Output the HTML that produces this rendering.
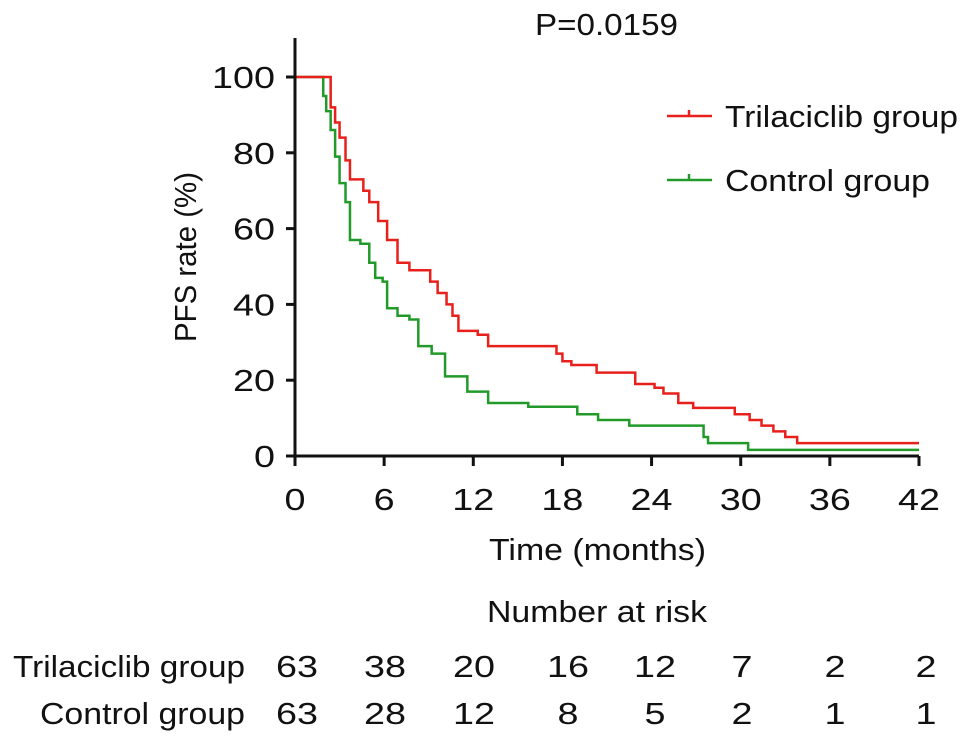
<!DOCTYPE html>
<html><head><meta charset="utf-8"><style>
body{margin:0;background:#fff;}
svg text{font-family:"Liberation Sans",Arial,sans-serif;fill:#111;}
</style></head><body>
<svg id="chart" width="969" height="742" viewBox="0 0 969 742" xmlns="http://www.w3.org/2000/svg">
<g id="plot"></g>
<text x="535" y="35" font-size="31" textLength="143" lengthAdjust="spacingAndGlyphs">P=0.0159</text>
<text x="489" y="560" font-size="31" textLength="217" lengthAdjust="spacingAndGlyphs">Time (months)</text>
<text transform="translate(196,342) rotate(-90)" font-size="31" textLength="170" lengthAdjust="spacingAndGlyphs">PFS rate (%)</text>
<g>
<line x1="667" y1="116" x2="712" y2="116" stroke="#e8201c" stroke-width="2.5"/>
<line x1="689" y1="110" x2="689" y2="116" stroke="#e8201c" stroke-width="2.5"/>
<text x="725" y="127" font-size="31" textLength="233" lengthAdjust="spacingAndGlyphs">Trilaciclib group</text>
<line x1="667" y1="180" x2="712" y2="180" stroke="#229a2a" stroke-width="2.5"/>
<line x1="689" y1="174" x2="689" y2="180" stroke="#229a2a" stroke-width="2.5"/>
<text x="725" y="191" font-size="31" textLength="205" lengthAdjust="spacingAndGlyphs">Control group</text>
</g>
<text x="487" y="622" font-size="31" textLength="220" lengthAdjust="spacingAndGlyphs">Number at risk</text>
<g id="risk"></g>
</svg>
<script>
const xTicks=[0,6,12,18,24,30,36,42];
const yTicks=[0,20,40,60,80,100];
const trilTimes=[0,2.4,2.7,3.0,3.4,3.7,4.6,5.0,5.6,6.2,6.9,7.7,9.1,9.6,10.2,10.6,11.0,12.3,13.0,17.6,18.0,18.6,20.3,22.9,24.2,24.8,25.8,26.8,29.6,30.6,31.4,32.2,33.0,33.8,42];
const trilSurv=[100,92,88,84,78,73,70,67,62,57,51,49,46,43,40,37,33,32,29,27,25,24,22,19,18,16.5,14,12.7,11,9.5,8,6.5,5,3.4,3.4];
const ctrlTimes=[0,1.9,2.1,2.4,2.7,3.0,3.4,3.7,4.4,5.0,5.4,5.9,6.2,6.9,7.7,8.3,9.2,10.1,11.6,13.0,15.7,19.0,20.4,22.5,27.5,27.8,30.5,42];
const ctrlSurv=[100,95,91,86,79,72,67,57,56,51,47,46,39,37,36,29,27,21,17,14,13,11,9.5,8,5,3.4,1.6,1.6];
const riskTril=[63,38,20,16,12,7,2,2];
const riskCtrl=[63,28,12,8,5,2,1,1];
const NS="http://www.w3.org/2000/svg";
const X=t=>295+t*(919-295)/42, Y=v=>456-v*3.79;
const g=document.getElementById('plot');
function mk(tag,at,parent){const e=document.createElementNS(NS,tag);for(const k in at)e.setAttribute(k,at[k]);(parent||g).appendChild(e);return e;}
function num(x,y,s,anchor,parent){const w=String(s).length*21;let x0=anchor==='end'?x-w:(anchor==='middle'?x-w/2:x);
const t=mk('text',{x:x0,y:y,'font-size':31,textLength:w,lengthAdjust:'spacingAndGlyphs'},parent);t.textContent=s;return t;}
function step(ts,vs,col,name){let d=`M${X(ts[0])},${Y(vs[0])}`;for(let i=1;i<ts.length;i++){d+=`H${X(ts[i])}V${Y(vs[i])}`;}
const p=mk('path',{d:d,fill:'none',stroke:col,'stroke-width':2.5});

}
step(ctrlTimes,ctrlSurv,'#229a2a','control-curve');
step(trilTimes,trilSurv,'#e8201c','trilaciclib-curve');
const ax=mk('path',{d:`M295,38V456H919`,fill:'none',stroke:'#111','stroke-width':3});


yTicks.forEach(v=>{mk('line',{x1:286,x2:295,y1:Y(v),y2:Y(v),stroke:'#111','stroke-width':3});
const t=num(275,Y(v)+11,v,'end');

});
xTicks.forEach(v=>{mk('line',{x1:X(v),x2:X(v),y1:456,y2:466,stroke:'#111','stroke-width':3});
const t=num(X(v),510,v,'middle');

});
const r=document.getElementById('risk');
const cols=[297,385,474,568,655,742,835,926];
[['Trilaciclib group',riskTril,677,232],['Control group',riskCtrl,724,205]].forEach(([lab,arr,y,w])=>{
const l=mk('text',{x:245-w,y:y,'font-size':31,textLength:w,lengthAdjust:'spacingAndGlyphs'},r);l.textContent=lab;


arr.forEach((n,i)=>{const t=num(cols[i],y,n,'middle',r);

});});
</script>
</body></html>
